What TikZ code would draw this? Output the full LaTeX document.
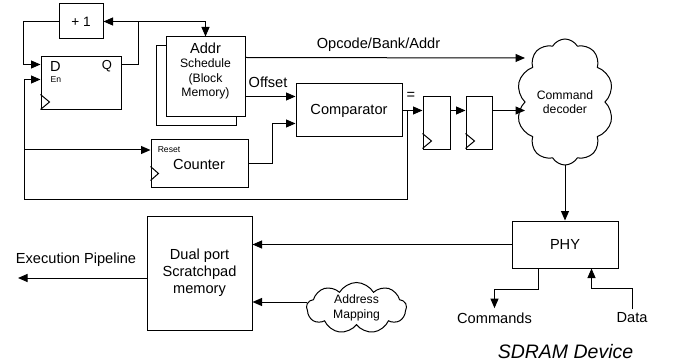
\documentclass[tikz,border=0pt]{standalone}
\usepackage{fontspec}
\setmainfont{Liberation Sans}
\usetikzlibrary{arrows.meta,shapes.symbols,calc}
\newcommand\fbig{\fontsize{14.6}{17}\selectfont}
\newcommand\fmid{\fontsize{12.2}{14.5}\selectfont}
\newcommand\ftiny{\fontsize{8.6}{10}\selectfont}
\newcommand\fttl{\fontsize{19.5}{22}\selectfont\itshape}
\begin{document}
\begin{tikzpicture}[x=1pt,y=-1pt,line width=1pt,
  arr/.style={-{Triangle[length=9.5pt,width=8pt]}},
  box/.style={draw,fill=white,inner sep=0pt},
  lbl/.style={inner sep=0pt,font=\fbig},
  cloudbox/.style={draw,fill=white,cloud,cloud puffs=#1,cloud puff arc=120,cloud ignores aspect,inner sep=0pt,align=center,font=\fmid}]
\useasboundingbox (0,0) rectangle (676,363);

% boxes
\node[box,minimum width=44pt,minimum height=35pt,font=\fontsize{13.6}{15}\selectfont] (plus) at (81,21.5) {+ 1};
\node[box,minimum width=80pt,minimum height=53pt] (dff) at (81,83.5) {};
\node[box,minimum width=80pt,minimum height=80pt] (addrback) at (196,86) {};
\node[box,minimum width=79pt,minimum height=80pt] (addr) at (205.5,77) {};
\node[inner sep=0pt,align=center,font=\fmid] (addrtxt) at (205.5,71) {{\fbig Addr}\\Schedule\\(Block\\Memory)};
\node[box,minimum width=97pt,minimum height=48pt] (counter) at (199.5,164) {};
\node[lbl] (countertxt) at (199,164) {Counter};
\node[box,minimum width=106pt,minimum height=53pt,font=\fbig] (comp) at (349,110.5) {Comparator};
\node[box,minimum width=27pt,minimum height=53pt] (reg1) at (436.5,123.5) {};
\node[box,minimum width=26pt,minimum height=53pt] (reg2) at (479,123.5) {};
\node[cloudbox=10,minimum width=97pt,minimum height=126pt] (cmd) at (565,102) {Command\\decoder};
\node[box,minimum width=106pt,minimum height=47pt,font=\fbig] (phy) at (565,244.5) {PHY};
\node[box,minimum width=105pt,minimum height=114pt,align=center,font=\fbig] (dual) at (199.5,273) {Dual port\\Scratchpad\\memory};
\node[cloudbox=9,minimum width=100pt,minimum height=51pt] (amap) at (356.5,308) {Address\\Mapping};

% small labels
\node[lbl] (dlbl) at (55.5,66) {D};
\node[inner sep=0pt,font=\fontsize{13}{15}\selectfont] (qlbl) at (107,66) {Q};
\node[inner sep=0pt,font=\ftiny] (enlbl) at (56,80) {En};
\node[inner sep=0pt,font=\ftiny] (rstlbl) at (169,150) {Reset};

% clock triangles
\draw ($(dff.south west)+(0,-16)$) -- ++(9,7.5) -- ++(-9,7.5);
\draw ($(counter.south west)+(0,-22)$) -- ++(8,7) -- ++(-8,7);
\draw ($(reg1.south west)+(0,-17)$) -- ++(9,7.5) -- ++(-9,7.5);
\draw ($(reg2.south west)+(0,-17)$) -- ++(9,7.5) -- ++(-9,7.5);

% coordinates
\coordinate (qj) at (138,21.5);
\coordinate (lx) at (24,200);
\coordinate (cj) at (407,110.5);
\coordinate (cmdin1) at (525,58);
\coordinate (cmdin2) at (525,110.5);
\coordinate (amapout) at (307,302);
\coordinate (execend) at (18,278);

% text nodes
\node[lbl] (opclbl) at (378.5,45) {Opcode/Bank/Addr};
\node[lbl] (offlbl) at (268,82) {Offset};
\node[lbl] (eqlbl) at (411,96) {=};
\node[lbl] (execlbl) at (76,260) {Execution Pipeline};
\node[lbl] (cmds) at (494.5,318) {Commands};
\node[lbl] (data) at (632,318) {Data};
\node[inner sep=0pt,font=\fttl] (sdram) at (565.5,352) {SDRAM Device};

% connectors
\draw[arr] ($(dff.north east)+(0,8)$) -| (qj) -- (plus.east);
\draw[arr] (qj) -| (addr.north);
\draw[arr] (plus.west) -| ($(dff.north west)+(-17,8)$) -- ($(dff.north west)+(0,8)$);
\draw[arr] (cj) |- (lx) |- ($(dff.north west)+(0,23)$);
\draw[arr] (lx |- rstlbl) -- (counter.west |- rstlbl);
\draw[arr] (counter.east) -- ++(24,0) |- ($(comp.north west)+(0,40)$);
\draw[arr] ($(addr.north east)+(0,60)$) -- ($(comp.north west)+(0,13)$);
\draw[arr] ($(addr.north east)+(0,21)$) -- (cmdin1);
\draw[arr] (comp.east) -- (comp.east -| reg1.west);
\draw[arr] (reg1.east |- comp.east) -- (reg2.west |- comp.east);
\draw[arr] (reg2.east |- comp.east) -- (cmdin2);
\draw[arr] (cmd.south) -- (phy.north);
\draw[arr] (phy.west) -- (phy.west -| dual.east);
\draw[arr] (dual.west |- execend) -- (execend);
\draw[arr] (amapout) -- (amapout -| dual.east);
\draw[arr] ($(phy.south west)+(27,0)$) -- ++(0,21) -| ($(cmds.north)+(0,-4)$);
\draw[arr] ($(data.north)+(0,-3)$) -- ++(0,-21) -| ($(phy.south west)+(80,0)$);
\end{tikzpicture}
\end{document}
